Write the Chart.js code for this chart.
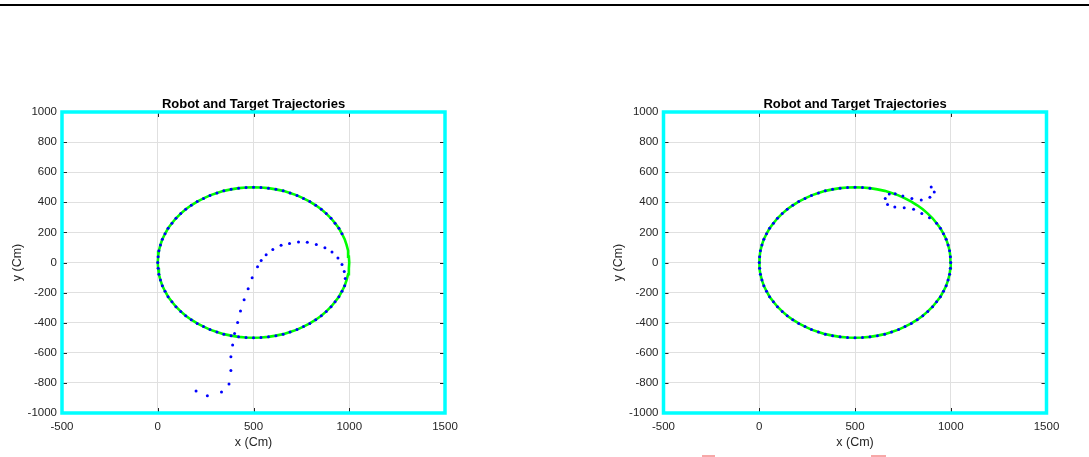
<!DOCTYPE html>
<html>
<head>
<meta charset="utf-8">
<script src="https://cdn.jsdelivr.net/npm/chart.js@4.4.0/dist/chart.umd.min.js"></script>
<style>
  body { margin: 0; background: #fff; }
  #page { position: relative; width: 1089px; height: 457px; overflow: hidden; background: #fff; }
  .plot { position: absolute; top: 0; }
  #topLine { position: absolute; left: 0; top: 4px; width: 1089px; height: 2px; background: #000; }
  .mark { position: absolute; top: 455px; height: 2px; background: #f7a8a8; }
</style>
</head>
<body>
<div id="page">
  <div id="topLine"></div>
  <canvas id="leftChart" class="plot" style="left:0" width="544" height="457"></canvas>
  <canvas id="rightChart" class="plot" style="left:544px" width="545" height="457"></canvas>
  <div class="mark" style="left:702px;width:13px;"></div>
  <div class="mark" style="left:871px;width:15px;"></div>
</div>
<script>
// axes
const xTickValues = [-500, 0, 500, 1000, 1500];
const yTickValues = [-1000, -800, -600, -400, -200, 0, 200, 400, 600, 800, 1000];
const chartTitle = 'Robot and Target Trajectories';
const xLabel = 'x (Cm)';
const yLabel = 'y (Cm)';

// target path (green ellipse)
const targetX = [1000,998,994,986,976,962,946,926,905,880,854,825,794,761,727,691,655,617,578,539,500,
  461,422,383,345,309,273,239,206,175,146,120,95,74,54,38,24,14,6,2,0,
  2,6,14,24,38,54,74,95,120,146,175,206,239,273,309,345,383,422,461,500,
  539,578,617,655,691,727,761,794,825,854,880,905,926,946,962,976,986,994,998,1000];
const targetY = [0,39,78,117,155,191,227,261,294,325,354,380,405,426,446,462,476,486,494,498,500,
  498,494,486,476,462,446,426,405,380,354,325,294,261,227,191,155,117,78,39,0,
  -39,-78,-117,-155,-191,-227,-261,-294,-325,-354,-380,-405,-426,-446,-462,-476,-486,-494,-498,-500,
  -498,-494,-486,-476,-462,-446,-426,-405,-380,-354,-325,-294,-261,-227,-191,-155,-117,-78,-39,0];

// left plot robot: approach then one lap
const leftApproachX = [200,259,333,372,382,382,391,401,417,432,451,472,493,521,540,566,601,644,688,735,781,828,873,910,941,962,974,979];
const leftApproachY = [-854,-885,-860,-807,-717,-626,-548,-471,-398,-322,-247,-174,-101,-28,14,52,87,114,127,136,134,120,98,70,30,-13,-59,-106];
const leftLapX = [976,962,946,926,905,880,854,825,794,761,727,691,655,617,578,539,500,461,422,383,345,309,273,239,206,175,146,120,95,74,54,38,24,14,6,2,
  0,2,6,14,24,38,54,74,95,120,146,175,206,239,273,309,345,383,422,461,500,539,578,617,655,691,727,761,794,825,854,880,905,926,946,962];
const leftLapY = [-155,-191,-227,-261,-294,-325,-354,-380,-405,-426,-446,-462,-476,-486,-494,-498,-500,-498,-494,-486,-476,-462,-446,-426,-405,-380,-354,-325,-294,-261,-227,-191,-155,-117,-78,-39,
  0,39,78,117,155,191,227,261,294,325,354,380,405,426,446,462,476,486,494,498,500,498,494,486,476,462,446,426,405,380,354,325,294,261,227,191];

// right plot robot: approach then one lap
const rightApproachX = [898,914,891,846,797,750,710,679,658,670,708,757,806,849,889];
const rightApproachY = [502,468,433,415,426,442,457,455,426,386,369,364,353,326,298];
const rightLapX = [926,946,962,976,986,994,998,1000,
  998,994,986,976,962,946,926,905,880,854,825,794,761,727,691,655,617,578,539,500,
  461,422,383,345,309,273,239,206,175,146,120,95,74,54,38,24,14,6,2,0,
  2,6,14,24,38,54,74,95,120,146,175,206,239,273,309,345,383,422,461,500,539,578];
const rightLapY = [261,227,191,155,117,78,39,0,
  -39,-78,-117,-155,-191,-227,-261,-294,-325,-354,-380,-405,-426,-446,-462,-476,-486,-494,-498,-500,
  -498,-494,-486,-476,-462,-446,-426,-405,-380,-354,-325,-294,-261,-227,-191,-155,-117,-78,-39,0,
  39,78,117,155,191,227,261,294,325,354,380,405,426,446,462,476,486,494,498,500,498,494];

Chart.defaults.font.family = '"Liberation Sans", Arial, Helvetica, sans-serif';
Chart.defaults.color = '#262626';

function toPoints(xs, ys) {
  return xs.map((x, i) => ({ x: x, y: ys[i] }));
}

// inward tick marks + cyan box, MATLAB style
const framePlugin = {
  id: 'frame',
  afterDatasetsDraw(chart) {
    const { ctx, chartArea: a, scales } = chart;
    ctx.save();
    ctx.strokeStyle = '#262626';
    ctx.lineWidth = 1;
    ctx.beginPath();
    xTickValues.forEach(v => {
      const px = Math.round(scales.x.getPixelForValue(v)) + 0.5;
      ctx.moveTo(px, a.bottom); ctx.lineTo(px, a.bottom - 5);
      ctx.moveTo(px, a.top); ctx.lineTo(px, a.top + 5);
    });
    yTickValues.forEach(v => {
      const py = Math.round(scales.y.getPixelForValue(v)) + 0.5;
      ctx.moveTo(a.left, py); ctx.lineTo(a.left + 5, py);
      ctx.moveTo(a.right, py); ctx.lineTo(a.right - 5, py);
    });
    ctx.stroke();
    ctx.strokeStyle = '#00ffff';
    ctx.lineWidth = 3.5;
    ctx.strokeRect(a.left, a.top, a.right - a.left, a.bottom - a.top);
    ctx.restore();
  }
};

function buildChart(id, robotXs, robotYs, padLeft, padRight) {
  return new Chart(document.getElementById(id), {
    type: 'scatter',
    data: {
      datasets: [
        {
          label: 'Robot',
          data: toPoints(robotXs, robotYs),
          showLine: false,
          pointRadius: 1.5,
          pointBorderWidth: 0,
          pointBackgroundColor: '#0000ff'
        },
        {
          label: 'Target',
          data: toPoints(targetX, targetY),
          showLine: true,
          fill: false,
          borderColor: '#00ff00',
          borderWidth: 2.6,
          pointRadius: 0
        }
      ]
    },
    options: {
      responsive: false,
      animation: false,
      layout: { padding: { left: padLeft, right: padRight, top: 0, bottom: 0 } },
      plugins: {
        legend: { display: false },
        tooltip: { enabled: false },
        title: {
          display: true,
          text: chartTitle,
          fullSize: false,
          color: '#000',
          font: { size: 13, weight: 'bold' },
          padding: { top: 96.2, bottom: 0.2 }
        }
      },
      scales: {
        x: {
          type: 'linear',
          min: -500,
          max: 1500,
          afterBuildTicks: s => { s.ticks = xTickValues.map(v => ({ value: v })); },
          afterFit: s => { s.height = 44; },
          ticks: { padding: 6.5, font: { size: 11.5 }, maxRotation: 0, autoSkip: false, callback: v => String(v) },
          grid: { color: '#e0e0e0', drawTicks: false },
          border: { display: false },
          title: { display: true, text: xLabel, font: { size: 12.5 }, padding: { top: 0, bottom: 6.5 } }
        },
        y: {
          type: 'linear',
          min: -1000,
          max: 1000,
          afterBuildTicks: s => { s.ticks = yTickValues.map(v => ({ value: v })); },
          afterFit: s => { s.width = 62; },
          ticks: { padding: 5, font: { size: 11.5 }, autoSkip: false, callback: v => String(v) },
          grid: { color: '#e0e0e0', drawTicks: false },
          border: { display: false },
          title: { display: true, text: yLabel, font: { size: 12.5 }, padding: { top: 10, bottom: 0 } }
        }
      }
    },
    plugins: [framePlugin]
  });
}

buildChart('leftChart', leftApproachX.concat(leftLapX), leftApproachY.concat(leftLapY), 0, 99);
buildChart('rightChart', rightApproachX.concat(rightLapX), rightApproachY.concat(rightLapY), 57.5, 42.5);
</script>
</body>
</html>
